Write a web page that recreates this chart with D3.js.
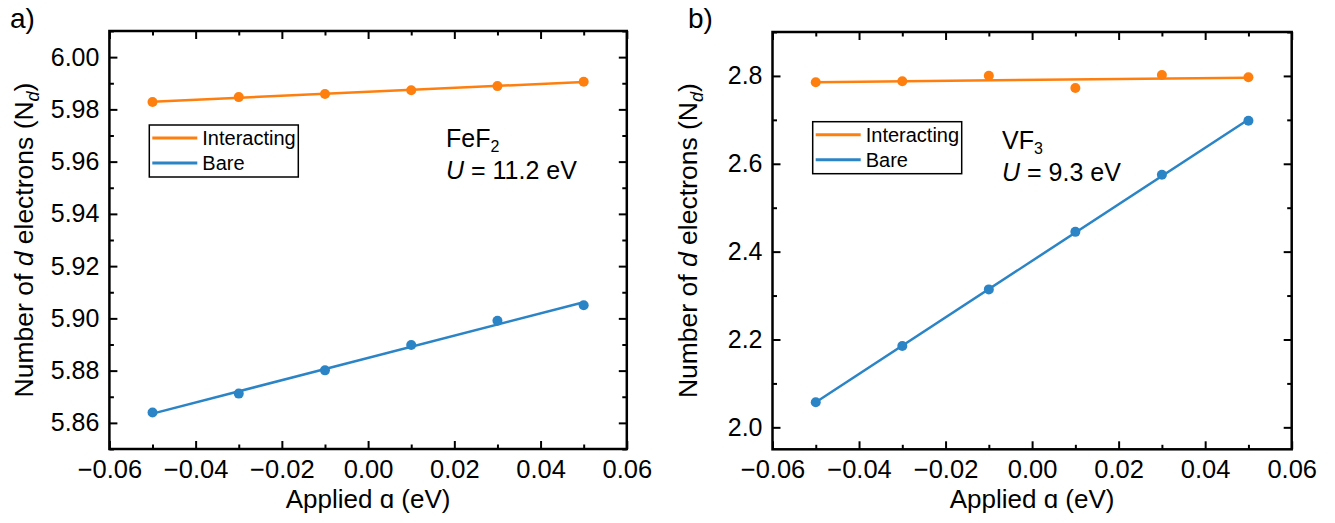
<!DOCTYPE html>
<html>
<head>
<meta charset="utf-8">
<script src="https://cdn.jsdelivr.net/npm/d3@7"></script>
<style>
  html, body { margin: 0; padding: 0; background: #fff; }
  svg { display: block; font-family: "Liberation Sans", Arial, Helvetica, sans-serif; }
</style>
</head>
<body>
<svg id="fig" width="1335" height="523"></svg>
<script>
// Applied potential shifts (eV)
const alphaValues = [-0.05, -0.03, -0.01, 0.01, 0.03, 0.05];

// FeF2: number of d electrons
const feF2Interacting = [5.9828, 5.9847, 5.9859, 5.9873, 5.9889, 5.9906];
const feF2Bare        = [5.8640, 5.8712, 5.8801, 5.8898, 5.8991, 5.9050];

// VF3: number of d electrons
const vF3Interacting = [2.7856, 2.7880, 2.8005, 2.7725, 2.8020, 2.7970];
const vF3Bare        = [2.057, 2.185, 2.314, 2.445, 2.575, 2.698];

// Axis tick values
const xMajorTicks = [-0.06, -0.04, -0.02, 0.00, 0.02, 0.04, 0.06];
const xMinorTicks = [-0.05, -0.03, -0.01, 0.01, 0.03, 0.05];
const feF2YMajor = [5.86, 5.88, 5.90, 5.92, 5.94, 5.96, 5.98, 6.00];
const feF2YMinor = [5.85, 5.87, 5.89, 5.91, 5.93, 5.95, 5.97, 5.99, 6.01];
const vF3YMajor = [2.0, 2.2, 2.4, 2.6, 2.8];
const vF3YMinor = [2.1, 2.3, 2.5, 2.7, 2.9];

const seriesNames = ["Interacting", "Bare"];
const ORANGE = "#ff7f0e";
const BLUE = "#2b84c6";

const svg = d3.select("#fig");

// Least-squares straight line through a series
function linearFit(xs, ys) {
  const mx = d3.mean(xs), my = d3.mean(ys);
  let sxy = 0, sxx = 0;
  xs.forEach((x, i) => { sxy += (x - mx) * (ys[i] - my); sxx += (x - mx) * (x - mx); });
  const b = sxy / sxx, a = my - b * mx;
  return x => a + b * x;
}

function drawPanel(cfg) {
  const g = svg.append("g");
  const x = d3.scaleLinear().domain([-0.06, 0.06]).range([cfg.left, cfg.right]);
  const y = d3.scaleLinear().domain(cfg.yDomain).range([cfg.bottom, cfg.top]);
  const w = cfg.right - cfg.left, h = cfg.bottom - cfg.top;

  // Inward ticks on all four sides
  const fmtX = d3.format(".2f");
  const axes = [
    [d3.axisBottom(x).tickValues(xMajorTicks).tickSize(-8).tickPadding(11).tickFormat(fmtX), `translate(0,${cfg.bottom})`, "25.5px"],
    [d3.axisBottom(x).tickValues(xMinorTicks).tickSize(-4.5).tickFormat(""), `translate(0,${cfg.bottom})`, null],
    [d3.axisTop(x).tickValues(xMajorTicks).tickSize(-8).tickFormat(""), `translate(0,${cfg.top})`, null],
    [d3.axisTop(x).tickValues(xMinorTicks).tickSize(-4.5).tickFormat(""), `translate(0,${cfg.top})`, null],
    [d3.axisLeft(y).tickValues(cfg.yMajor).tickSize(-8).tickPadding(10).tickFormat(d3.format(cfg.yFormat)), `translate(${cfg.left},0)`, "25px"],
    [d3.axisLeft(y).tickValues(cfg.yMinor).tickSize(-4.5).tickFormat(""), `translate(${cfg.left},0)`, null],
    [d3.axisRight(y).tickValues(cfg.yMajor).tickSize(-8).tickFormat(""), `translate(${cfg.right},0)`, null],
    [d3.axisRight(y).tickValues(cfg.yMinor).tickSize(-4.5).tickFormat(""), `translate(${cfg.right},0)`, null]
  ];
  axes.forEach(([ax, tr, fs]) => {
    const a = g.append("g").attr("transform", tr).call(ax);
    a.select(".domain").remove();
    a.selectAll(".tick line").attr("stroke", "#000").attr("stroke-width", 2);
    a.selectAll(".tick text")
      .attr("fill", "#000")
      .style("font-family", "'Liberation Sans', Arial, sans-serif")
      .style("font-size", fs);
  });

  // Frame
  g.append("rect")
    .attr("x", cfg.left).attr("y", cfg.top)
    .attr("width", w).attr("height", h)
    .attr("fill", "none").attr("stroke", "#000").attr("stroke-width", 2.5);

  // Series: fitted line plus computed points
  const series = [
    { vals: cfg.interacting, color: ORANGE },
    { vals: cfg.bare, color: BLUE }
  ];
  series.forEach(s => {
    const f = linearFit(alphaValues, s.vals);
    const ends = [alphaValues[0], alphaValues[alphaValues.length - 1]];
    g.append("path")
      .datum(ends)
      .attr("d", d3.line().x(d => x(d)).y(d => y(f(d))))
      .attr("stroke", s.color).attr("stroke-width", 2.5).attr("fill", "none");
    g.selectAll(null)
      .data(alphaValues.map((a, i) => [a, s.vals[i]]))
      .join("circle")
      .attr("cx", d => x(d[0])).attr("cy", d => y(d[1]))
      .attr("r", 5).attr("fill", s.color);
  });

  // Legend
  const lg = g.append("g").attr("transform", `translate(${cfg.legend[0]},${cfg.legend[1]})`);
  lg.append("rect").attr("width", 149).attr("height", 52)
    .attr("fill", "#fff").attr("stroke", "#000").attr("stroke-width", 1.5);
  [ORANGE, BLUE].forEach((c, i) => {
    const yy = 13 + i * 25;
    lg.append("line").attr("x1", 3).attr("x2", 48).attr("y1", yy).attr("y2", yy)
      .attr("stroke", c).attr("stroke-width", 3);
    lg.append("text").attr("x", 53).attr("y", yy + 7)
      .attr("font-size", 20).text(seriesNames[i]);
  });

  // Compound label and Hubbard U
  const t1 = g.append("text").attr("x", cfg.note[0]).attr("y", cfg.note[1]).attr("font-size", 25);
  t1.append("tspan").text(cfg.formula[0]);
  t1.append("tspan").attr("font-size", 16).attr("dy", 5).text(cfg.formula[1]);
  const t2 = g.append("text").attr("x", cfg.note[0]).attr("y", cfg.note[1] + 32).attr("font-size", 25);
  t2.append("tspan").attr("font-style", "italic").text("U");
  t2.append("tspan").text(" = " + cfg.uValue);

  // Axis titles
  g.append("text")
    .attr("x", (cfg.left + cfg.right) / 2).attr("y", 508)
    .attr("text-anchor", "middle").attr("font-size", 26)
    .text("Applied \u0251 (eV)");
  const yl = g.append("text")
    .attr("transform", `translate(${cfg.left - 76},${(cfg.top + cfg.bottom) / 2}) rotate(-90)`)
    .attr("text-anchor", "middle").attr("font-size", 26.5);
  yl.append("tspan").text("Number of ");
  yl.append("tspan").attr("font-style", "italic").text("d");
  yl.append("tspan").text(" electrons (N");
  yl.append("tspan").attr("font-style", "italic").attr("font-size", 18).attr("dy", 6).text("d");
  yl.append("tspan").attr("dy", -6).text(")");

  // Panel letter
  g.append("text").attr("x", cfg.letterX).attr("y", 28).attr("font-size", 28).text(cfg.letter);
}

drawPanel({
  left: 109.4, right: 626.8, top: 31, bottom: 449,
  yDomain: [5.85, 6.01], yMajor: feF2YMajor, yMinor: feF2YMinor, yFormat: ".2f",
  interacting: feF2Interacting, bare: feF2Bare,
  legend: [149.3, 125], note: [446, 147], formula: ["FeF", "2"], uValue: "11.2 eV",
  letter: "a)", letterX: 10
});

drawPanel({
  left: 772.5, right: 1291.7, top: 32, bottom: 449.3,
  yDomain: [1.95, 2.9], yMajor: vF3YMajor, yMinor: vF3YMinor, yFormat: ".1f",
  interacting: vF3Interacting, bare: vF3Bare,
  legend: [812.7, 121.7], note: [1002, 149], formula: ["VF", "3"], uValue: "9.3 eV",
  letter: "b)", letterX: 688
});
</script>
</body>
</html>
